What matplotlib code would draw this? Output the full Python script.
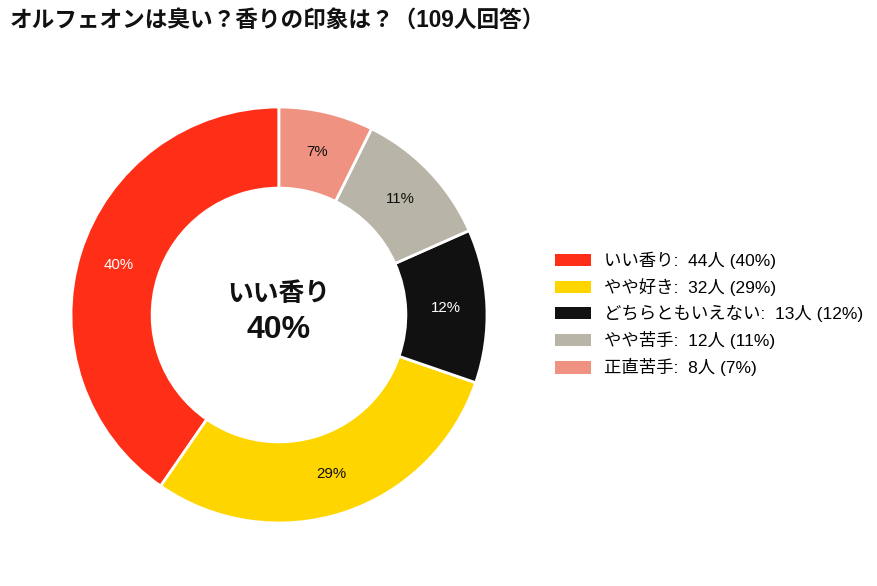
import matplotlib
matplotlib.use("Agg")
import matplotlib.pyplot as plt
from matplotlib.patches import Patch
import numpy as np

plt.rcParams['font.family'] = ['Liberation Sans', 'Noto Sans CJK JP', 'DejaVu Sans']

categories = ["いい香り", "やや好き", "どちらともいえない", "やや苦手", "正直苦手"]
counts = [44, 32, 13, 12, 8]
colors = ["#FF2E17", "#FFD500", "#111111", "#B8B4A8", "#F09282"]
label_colors = ["white", "#111111", "white", "#111111", "#111111"]
title = "オルフェオンは臭い？香りの印象は？（109人回答）"
total = sum(counts)
pcts = [round(c / total * 100) for c in counts]

W, H = 877, 586
fig = plt.figure(figsize=(W / 100, H / 100), dpi=100)

cx, cy, r = 279, 315, 208
lim = 1.05
ax = fig.add_axes([(cx - r * lim) / W, (H - cy - r * lim) / H, 2 * r * lim / W, 2 * r * lim / H])
wedges, texts = ax.pie(counts, colors=colors, startangle=90, counterclock=True,
                       wedgeprops=dict(width=0.39, edgecolor="white", linewidth=2))
for w, p, lc in zip(wedges, pcts, label_colors):
    ang = np.deg2rad((w.theta1 + w.theta2) / 2)
    ax.text(0.805 * np.cos(ang), 0.805 * np.sin(ang), f"{p}%", ha="center", va="center",
            fontsize=10.8, color=lc, family=["Liberation Sans", "DejaVu Sans"])
ax.set_xlim(-lim, lim)
ax.set_ylim(-lim, lim)
ax.set_aspect("equal")
ax.axis("off")

ax.text(0, 0.10, categories[0], ha="center", va="center", fontsize=18.5, fontweight="bold", color="#111111")
ax.text(0, -0.07, f"{pcts[0]}%", ha="center", va="center", fontsize=23, fontweight="bold", color="#111111")

fig.text(10 / W, 1 - 20 / H, title, ha="left", va="center", fontsize=16.3, fontweight="bold", color="#111111")

handles = [Patch(facecolor=c, edgecolor="none") for c in colors]
labels = [f"{cat}:  {n}人 ({p}%)" for cat, n, p in zip(categories, counts, pcts)]
fig.legend(handles, labels, loc="center left", bbox_to_anchor=(555 / W, 1 - 314 / H),
           frameon=False, fontsize=12.5, handlelength=2.1, handleheight=0.75,
           handletextpad=0.7, labelspacing=0.52, borderpad=0, borderaxespad=0)

fig.savefig("out.png", dpi=100, facecolor="white")
